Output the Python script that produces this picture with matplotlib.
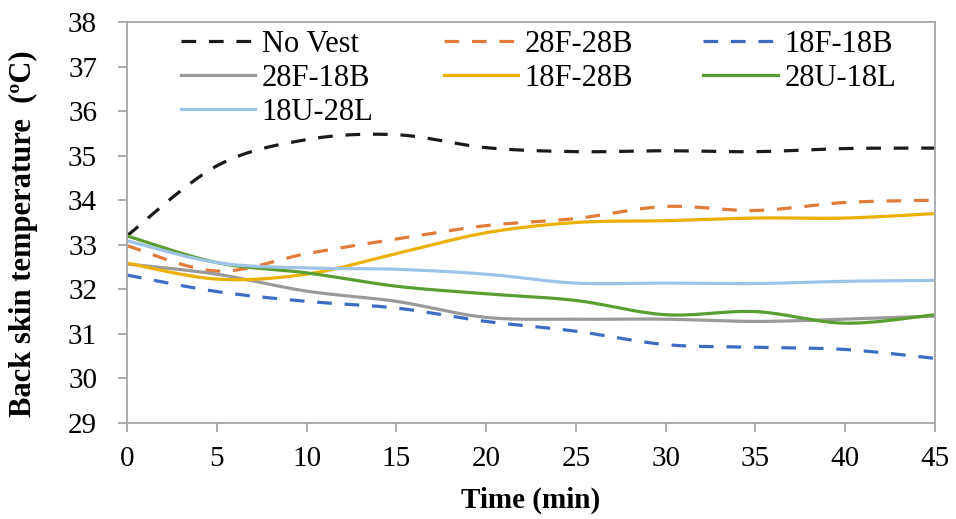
import numpy as np
import matplotlib
matplotlib.use("Agg")
import matplotlib.pyplot as plt

time = [0, 5, 10, 15, 20, 25, 30, 35, 40, 45]
no_vest = [33.2, 34.77, 35.36, 35.47, 35.18, 35.09, 35.11, 35.09, 35.16, 35.17]
f28_b28 = [32.98, 32.41, 32.8, 33.13, 33.43, 33.59, 33.86, 33.77, 33.95, 34.0]
f18_b18 = [32.32, 31.95, 31.73, 31.58, 31.28, 31.06, 30.76, 30.7, 30.65, 30.45]
f28_b18 = [32.57, 32.34, 31.96, 31.73, 31.37, 31.33, 31.33, 31.28, 31.33, 31.4]
f18_b28 = [32.59, 32.23, 32.34, 32.8, 33.27, 33.5, 33.54, 33.6, 33.6, 33.7]
u28_l18 = [33.2, 32.6, 32.37, 32.07, 31.9, 31.75, 31.43, 31.5, 31.24, 31.43]
u18_l28 = [33.09, 32.6, 32.48, 32.45, 32.34, 32.14, 32.14, 32.13, 32.18, 32.2]

labels = ["No Vest", "28F-28B", "18F-18B", "28F-18B", "18F-28B", "28U-18L", "18U-28L"]
series = [no_vest, f28_b28, f18_b18, f28_b18, f18_b28, u28_l18, u18_l28]
colors = ["#1a1a1a", "#E07B39", "#3D6CC4", "#9a9a9a", "#EBB000", "#5A9E32", "#9DC3E6"]
styles = ["--", "--", "--", "-", "-", "-", "-"]


def smooth(x, y, n=30):
    # Excel-style smoothed line (Bezier with Catmull-Rom control points)
    x = np.asarray(x, float)
    y = np.asarray(y, float)
    P = np.column_stack([x, y])
    Pe = np.vstack([P[0], P, P[-1]])
    out = []
    t = np.linspace(0, 1, n)
    for i in range(len(P) - 1):
        p0, p1, p2, p3 = Pe[i], Pe[i + 1], Pe[i + 2], Pe[i + 3]
        c1 = p1 + (p2 - p0) / 6
        c2 = p2 - (p3 - p1) / 6
        seg = ((1 - t) ** 3)[:, None] * p1 + (3 * (1 - t) ** 2 * t)[:, None] * c1 \
            + (3 * (1 - t) * t ** 2)[:, None] * c2 + (t ** 3)[:, None] * p2
        out.append(seg if i == 0 else seg[1:])
    S = np.vstack(out)
    return S[:, 0], S[:, 1]


plt.rcParams['font.family'] = ['Liberation Serif', 'DejaVu Serif']
fig = plt.figure(figsize=(9.56, 5.19), dpi=100)
ax = fig.add_axes([0.1328, 1 - 423 / 519, 0.978 - 0.1328, (423 - 22) / 519])

handles = []
for lab, ys, c, ls in zip(labels, series, colors, styles):
    sx, sy = smooth(time, ys)
    if ls == "--":
        h, = ax.plot(sx, sy, color=c, lw=2.3, ls=(0, (4.6, 4.0)), label=lab)
    else:
        h, = ax.plot(sx, sy, color=c, lw=2.3, ls="-", label=lab)
    handles.append(h)

ax.set_xlim(0, 45)
ax.set_ylim(29, 38)
ax.set_xticks(range(0, 46, 5))
ax.set_yticks(range(29, 39))
for s in ax.spines.values():
    s.set_color("#a6a6a6")
    s.set_linewidth(1.3)
ax.tick_params(axis="both", direction="out", length=6.5, color="#a6a6a6", width=1.3,
               labelsize=21)
ax.tick_params(axis="y", pad=15)
ax.tick_params(axis="x", pad=10)
ax.set_xlabel("Time (min)", fontsize=21, fontweight="bold")
ax.set_ylabel("Back skin temperature  (ºC)", fontsize=22, fontweight="bold")
ax.xaxis.set_label_coords(0.5, (423 - 500) / 401)
ax.xaxis.label.set_va("center")
ax.yaxis.set_label_coords((24 - 127) / 808, (423 - 234) / 401)
ax.yaxis.label.set_va("center")

# legend filled row-wise like the reference (matplotlib fills column-wise)
order = [0, 3, 6, 1, 4, 2, 5]
leg = ax.legend([handles[i] for i in order], [labels[i] for i in order],
                loc="upper left", bbox_to_anchor=((183 - 127) / 808 - 0.003, 0.981),
                ncol=3, frameon=False,
                fontsize=22, handlelength=2.45, handletextpad=0.2, columnspacing=2.3,
                labelspacing=0.17, borderaxespad=0.0, borderpad=0.0)

fig.savefig("out.png", dpi=100)
